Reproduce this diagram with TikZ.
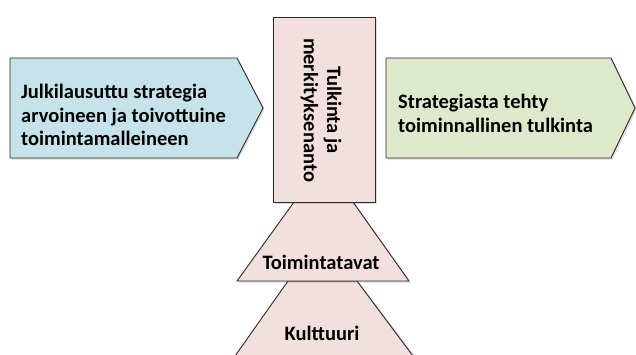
\documentclass[tikz,border=0pt]{standalone}
\usepackage{fontspec}
\setmainfont{Carlito}
\definecolor{bluefill}{HTML}{C6E3EC}
\definecolor{greenfill}{HTML}{DEE8CA}
\definecolor{pinkfill}{HTML}{F2DFDE}
\definecolor{edge}{HTML}{2B2B2B}
\begin{document}
\begin{tikzpicture}[x=1pt,y=-1pt,
  panel/.style={draw=edge,line width=0.9pt,line join=miter},
  shade/.style={fill=black,opacity=0.14},
  lbl/.style={font=\bfseries\fontsize{20.5}{23.3}\selectfont,text=black,inner sep=0pt}]
\useasboundingbox[fill=white] (0,0) rectangle (636,354);

% culture layer (bottom trapezoid, cut by the lower edge)
\fill[shade] (289.5,282.5) -- (359,282.5) -- (415,356) -- (236.5,356) -- cycle;
\filldraw[panel,fill=pinkfill] (288,281) -- (357,281) -- (413,356) -- (235,356) -- cycle;
% ways of working layer
\fill[shade] (295.5,203.5) -- (355,203.5) -- (411,282.5) -- (238.5,282.5) -- cycle;
\filldraw[panel,fill=pinkfill] (294,202) -- (353,202) -- (409,281) -- (237,281) -- cycle;

% left arrow box
\fill[shade] (11.5,59.5) -- (238.5,59.5) -- (264.5,109.5) -- (238.5,159.5) -- (11.5,159.5) -- cycle;
\filldraw[panel,fill=bluefill] (10,58) -- (237,58) -- (263,108) -- (237,158) -- (10,158) -- cycle;
% right arrow box
\fill[shade] (387.5,59.5) -- (612.5,59.5) -- (637,109.5) -- (612.5,159.5) -- (387.5,159.5) -- cycle;
\filldraw[panel,fill=greenfill] (386,58) -- (611,58) -- (635,108) -- (611,158) -- (386,158) -- cycle;
% central interpretation box
\fill[shade] (274.5,18.5) rectangle (376.5,203.5);
\filldraw[panel,fill=pinkfill] (273,17) rectangle (375,202);

% texts
\node[lbl,align=left,anchor=west] (strategy) at (21,115)
  {Julkilausuttu strategia\\arvoineen ja toivottuine\\toimintamalleineen};
\node[lbl,align=left,anchor=west] (practice) at (398,113.5)
  {Strategiasta tehty\\toiminnallinen tulkinta};
\node[lbl,align=center,rotate=-90] (interp) at (321,110)
  {Tulkinta ja\\merkityksenanto};
\node[lbl] (ways) at (321,262) {Toimintatavat};
\node[lbl] (culture) at (322,333) {Kulttuuri};
\end{tikzpicture}
\end{document}
